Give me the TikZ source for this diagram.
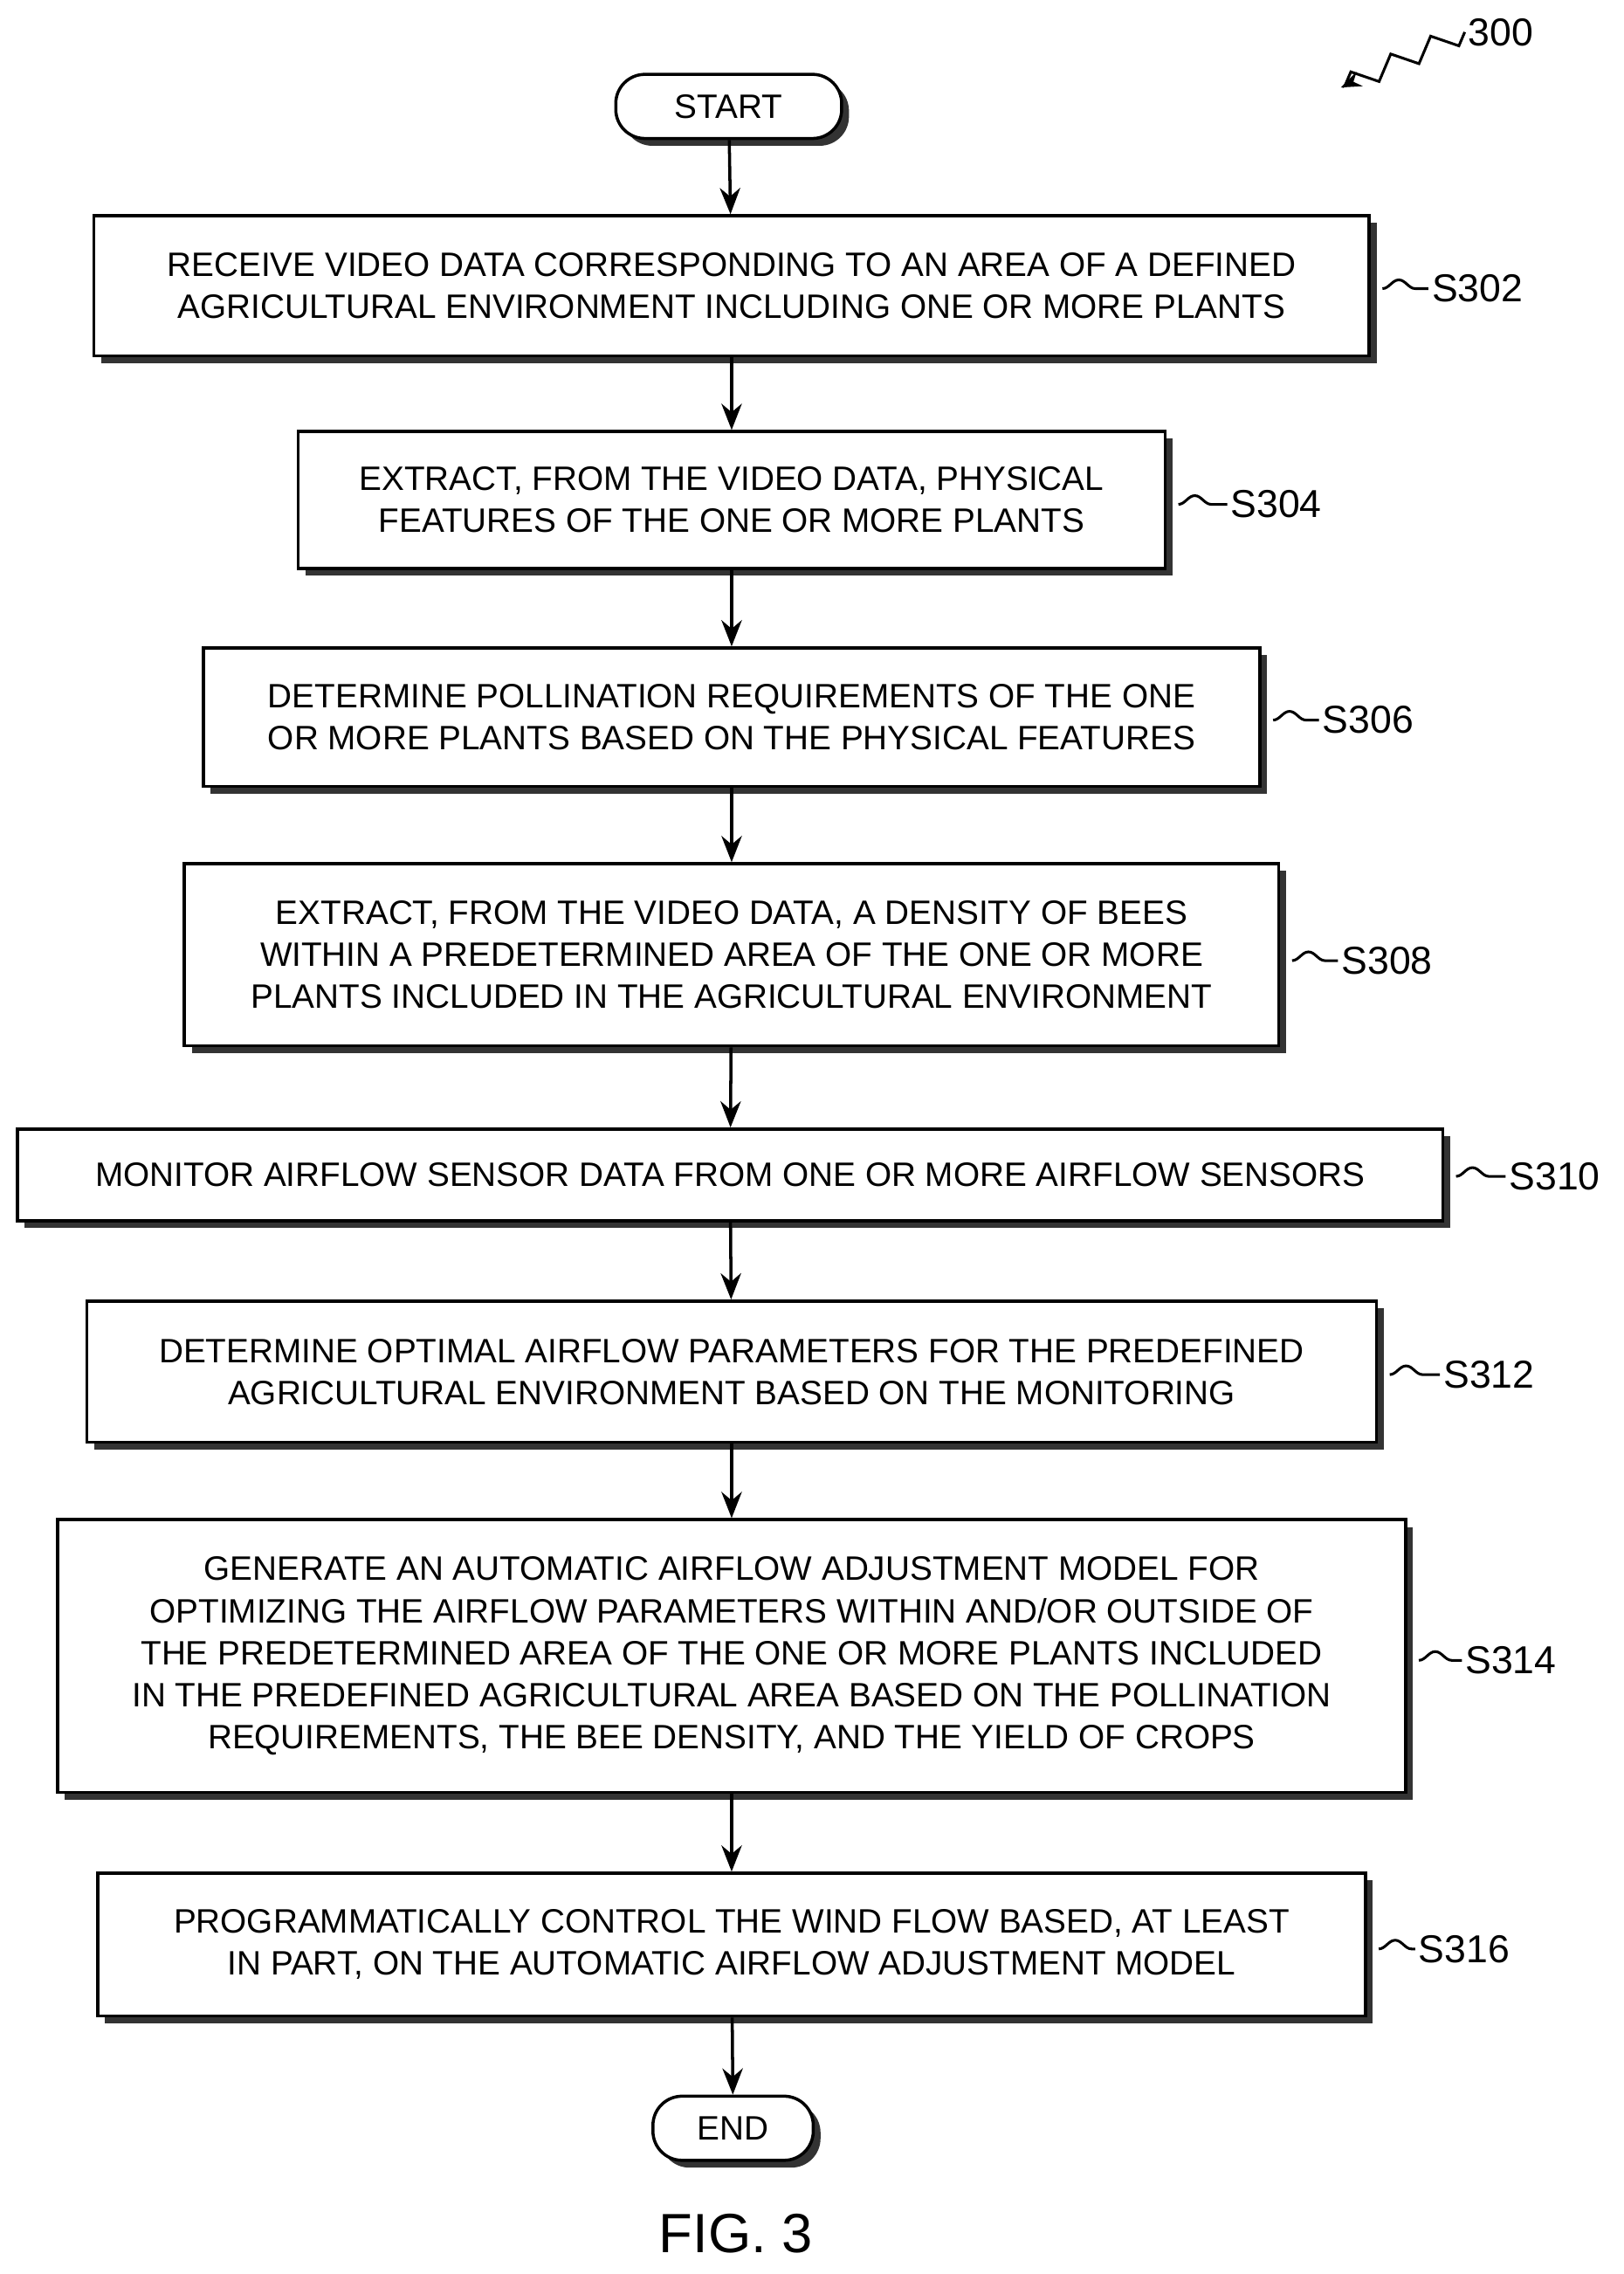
\documentclass[tikz,border=0pt]{standalone}
\usepackage{fontspec}
\setmainfont{Liberation Sans}
\usetikzlibrary{arrows.meta,shadows,decorations.pathmorphing,positioning}
\tikzset{
  procbox/.style={draw, line width=3pt, fill=white, align=center, inner sep=0pt,
    drop shadow={opacity=1, fill=black!80, shadow xshift=0.25cm, shadow yshift=-0.25cm}},
  term/.style={procbox, rounded corners=1cm},
  flow/.style={line width=3pt, -{Stealth[length=0.9cm,width=0.7cm]}},
  tilde/.style={line width=2.6pt, decorate, decoration={snake, segment length=1.8cm, amplitude=0.3cm}},
  lbl/.style={font=\fontsize{38}{44}\selectfont, anchor=west}
}
\begin{document}
\begin{tikzpicture}[x=0.05cm, y=-0.05cm, font=\fontsize{33}{41}\selectfont]
\useasboundingbox (0,0) rectangle (1114,1560);
% terminals
\node[term, minimum width=7.75cm, minimum height=2.2cm] (start) at (500,73) {START};
\node[term, minimum width=5.5cm, minimum height=2.2cm] (end) at (503,1460) {END};
% steps
\node[procbox, minimum width=43.75cm, minimum height=4.8cm] (s302) at (502,196)
  {RECEIVE VIDEO DATA CORRESPONDING TO AN AREA OF A DEFINED\\AGRICULTURAL ENVIRONMENT INCLUDING ONE OR MORE PLANTS};
\node[procbox, minimum width=29.75cm, minimum height=4.7cm] (s304) at (502,343)
  {EXTRACT, FROM THE VIDEO DATA, PHYSICAL\\FEATURES OF THE ONE OR MORE PLANTS};
\node[procbox, minimum width=36.25cm, minimum height=4.75cm] (s306) at (502,492)
  {DETERMINE POLLINATION REQUIREMENTS OF THE ONE\\OR MORE PLANTS BASED ON THE PHYSICAL FEATURES};
\node[procbox, minimum width=37.55cm, minimum height=6.25cm] (s308) at (502,655)
  {EXTRACT, FROM THE VIDEO DATA, A DENSITY OF BEES\\WITHIN A PREDETERMINED AREA OF THE ONE OR MORE\\PLANTS INCLUDED IN THE AGRICULTURAL ENVIRONMENT};
\node[procbox, minimum width=48.9cm, minimum height=3.15cm] (s310) at (501,806)
  {MONITOR AIRFLOW SENSOR DATA FROM ONE OR MORE AIRFLOW SENSORS};
\node[procbox, minimum width=44.25cm, minimum height=4.85cm] (s312) at (502,941)
  {DETERMINE OPTIMAL AIRFLOW PARAMETERS FOR THE PREDEFINED\\AGRICULTURAL ENVIRONMENT BASED ON THE MONITORING};
\node[procbox, minimum width=46.25cm, minimum height=9.35cm] (s314) at (502,1136)
  {GENERATE AN AUTOMATIC AIRFLOW ADJUSTMENT MODEL FOR\\OPTIMIZING THE AIRFLOW PARAMETERS WITHIN AND/OR OUTSIDE OF\\THE PREDETERMINED AREA OF THE ONE OR MORE PLANTS INCLUDED\\IN THE PREDEFINED AGRICULTURAL AREA BASED ON THE POLLINATION\\REQUIREMENTS, THE BEE DENSITY, AND THE YIELD OF CROPS};
\node[procbox, minimum width=43.5cm, minimum height=4.9cm] (s316) at (502,1334)
  {PROGRAMMATICALLY CONTROL THE WIND FLOW BASED, AT LEAST\\IN PART, ON THE AUTOMATIC AIRFLOW ADJUSTMENT MODEL};
% arrows
\draw[flow] (start) -- (s302);
\draw[flow] (s302) -- (s304);
\draw[flow] (s304) -- (s306);
\draw[flow] (s306) -- (s308);
\draw[flow] (s308) -- (s310);
\draw[flow] (s310) -- (s312);
\draw[flow] (s312) -- (s314);
\draw[flow] (s314) -- (s316);
\draw[flow] (s316) -- (end);
% step labels
\node[lbl] (l302) at (980,198) {S302};
\node[lbl] (l304) at (842,346) {S304};
\node[lbl] (l306) at (905,494) {S306};
\node[lbl] (l308) at (918,659) {S308};
\node[lbl] (l310) at (1033,807) {S310};
\node[lbl] (l312) at (988,943) {S312};
\node[lbl] (l314) at (1003,1139) {S314};
\node[lbl] (l316) at (971,1337) {S316};
\foreach \s in {302,304,306,308,310,312,314,316}
  \draw[tilde] ([xshift=0.4cm]s\s.east |- l\s.west) -- (l\s.west);
% figure number
\node[lbl] (ref) at (1005,22) {300};
\coordinate (refend) at (920,60);
\draw[line width=2.6pt, decorate, decoration={zigzag, segment length=1.5cm, amplitude=0.35cm}, -{Stealth[length=0.7cm]}]
  (ref.west) -- (refend);
\node[font=\fontsize{54}{60}\selectfont] (fig) at (505,1532) {FIG. 3};
\end{tikzpicture}
\end{document}
